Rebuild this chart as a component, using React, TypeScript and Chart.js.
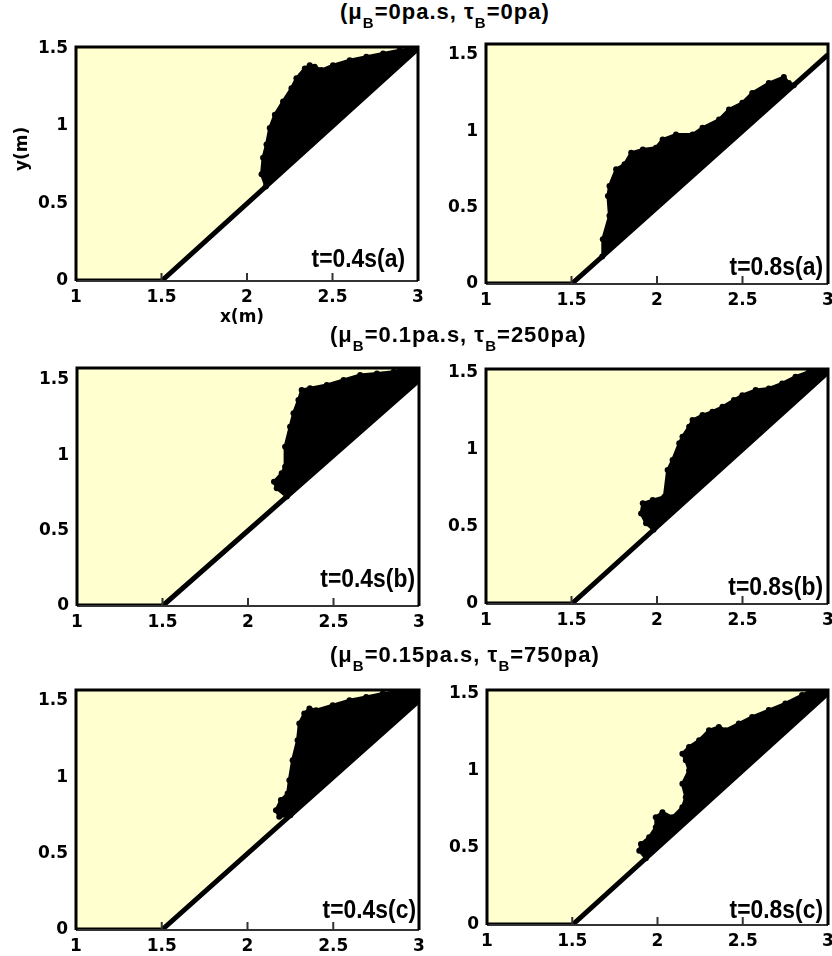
import React, { useEffect, useRef } from "react";
import { Chart, registerables } from "chart.js";

Chart.register(...registerables);

// ---------- data ----------
const xTicks = [1, 1.5, 2, 2.5, 3];
const yTicks = [0, 0.5, 1, 1.5];

// inclined bed (wall particles)
const wallX = [1, 1.5, 3];
const wallY = [0, 0, 1.5];

// fluid free-surface outlines (closed back along the wall)
const fluidA04X = [2.11, 2.085, 2.094, 2.114, 2.133, 2.163, 2.211, 2.26, 2.289, 2.338, 2.367, 2.396, 2.435, 2.503, 2.601, 2.698, 2.796, 2.893, 2.971, 3.0, 3.0];
const fluidA04Y = [0.61, 0.689, 0.796, 0.881, 0.988, 1.073, 1.159, 1.244, 1.308, 1.372, 1.393, 1.383, 1.361, 1.393, 1.425, 1.447, 1.468, 1.489, 1.5, 1.51, 1.5];

const fluidA08X = [1.68, 1.683, 1.722, 1.713, 1.722, 1.761, 1.81, 1.849, 1.917, 1.994, 2.033, 2.111, 2.208, 2.266, 2.363, 2.421, 2.499, 2.557, 2.654, 2.742, 2.771, 2.8];
const fluidA08Y = [0.18, 0.293, 0.446, 0.576, 0.641, 0.75, 0.783, 0.859, 0.88, 0.891, 0.946, 0.978, 0.978, 1.022, 1.076, 1.141, 1.185, 1.25, 1.315, 1.354, 1.315, 1.3];

const fluidB04X = [2.227, 2.168, 2.152, 2.197, 2.217, 2.217, 2.246, 2.266, 2.295, 2.314, 2.363, 2.461, 2.559, 2.656, 2.754, 2.852, 2.92, 3.0, 3.0];
const fluidB04Y = [0.727, 0.781, 0.825, 0.881, 0.925, 1.058, 1.19, 1.279, 1.367, 1.434, 1.445, 1.467, 1.5, 1.533, 1.544, 1.555, 1.577, 1.58, 1.5];

const fluidB08X = [1.98, 1.936, 1.907, 1.917, 1.975, 2.043, 2.062, 2.091, 2.13, 2.149, 2.188, 2.208, 2.266, 2.324, 2.383, 2.45, 2.499, 2.577, 2.654, 2.732, 2.81, 2.887, 2.965, 3.0, 3.0];
const fluidB08Y = [0.48, 0.522, 0.586, 0.651, 0.672, 0.694, 0.866, 0.931, 1.039, 1.082, 1.147, 1.19, 1.222, 1.244, 1.276, 1.319, 1.351, 1.384, 1.394, 1.427, 1.47, 1.502, 1.513, 1.52, 1.5];

const fluidC04X = [2.25, 2.185, 2.166, 2.195, 2.234, 2.244, 2.263, 2.292, 2.302, 2.331, 2.361, 2.4, 2.497, 2.595, 2.692, 2.789, 2.867, 2.906, 3.0, 3.0];
const fluidC04Y = [0.75, 0.741, 0.784, 0.85, 0.893, 0.98, 1.111, 1.242, 1.351, 1.416, 1.449, 1.438, 1.471, 1.503, 1.525, 1.547, 1.558, 1.569, 1.57, 1.5];

const fluidC08X = [1.932, 1.893, 1.903, 1.951, 1.99, 1.99, 2.029, 2.088, 2.146, 2.166, 2.146, 2.185, 2.166, 2.146, 2.185, 2.244, 2.302, 2.36, 2.399, 2.477, 2.555, 2.653, 2.75, 2.848, 2.906, 3.0, 3.0];
const fluidC08Y = [0.432, 0.481, 0.524, 0.567, 0.632, 0.697, 0.729, 0.697, 0.762, 0.827, 0.913, 1.0, 1.065, 1.108, 1.152, 1.195, 1.26, 1.281, 1.26, 1.303, 1.346, 1.39, 1.433, 1.487, 1.52, 1.52, 1.5];

const panelLabels = ["t=0.4s(a)", "t=0.8s(a)", "t=0.4s(b)", "t=0.8s(b)", "t=0.4s(c)", "t=0.8s(c)"];
const panelYMax = [1.51, 1.57, 1.58, 1.52, 1.57, 1.52];

const muValues = ["0", "0.1", "0.15"];
const tauValues = ["0", "250", "750"];

// ---------- styles / layout ----------
const YELLOW = "#FFFFD0";
const Y_AXIS_W = 55;
const PAD_T = 14;
const X_AXIS_H = 40;
const TICK_FONT = { family: "'DejaVu Sans', sans-serif", size: 17, weight: "bold" as const };

const panels = [
  { L: 76, T: 47, R: 418, B: 281, padR: 10, fx: fluidA04X, fy: fluidA04Y, label: panelLabels[0], ymax: panelYMax[0], lr: 13, lb: 14 },
  { L: 486, T: 44, R: 829, B: 284, padR: 3, fx: fluidA08X, fy: fluidA08Y, label: panelLabels[1], ymax: panelYMax[1], lr: 5, lb: 9 },
  { L: 77, T: 368, R: 419, B: 606, padR: 9, fx: fluidB04X, fy: fluidB04Y, label: panelLabels[2], ymax: panelYMax[2], lr: 4, lb: 19 },
  { L: 486, T: 369, R: 829, B: 604, padR: 3, fx: fluidB08X, fy: fluidB08Y, label: panelLabels[3], ymax: panelYMax[3], lr: 5, lb: 9 },
  { L: 76, T: 690, R: 419, B: 930, padR: 9, fx: fluidC04X, fy: fluidC04Y, label: panelLabels[4], ymax: panelYMax[4], lr: 3, lb: 12 },
  { L: 487, T: 690, R: 829, B: 925, padR: 3, fx: fluidC08X, fy: fluidC08Y, label: panelLabels[5], ymax: panelYMax[5], lr: 5, lb: 7 },
];

const framePlugin = {
  id: "frame",
  afterDatasetsDraw(chart: any, _args: any, opts: any) {
    const { ctx, chartArea: a, scales } = chart;
    ctx.save();
    ctx.strokeStyle = "#333";
    ctx.lineWidth = 2;
    xTicks.forEach((v) => {
      const px = scales.x.getPixelForValue(v);
      ctx.beginPath();
      ctx.moveTo(px, a.bottom);
      ctx.lineTo(px, a.bottom - 8);
      ctx.stroke();
    });
    ctx.beginPath();
    ctx.moveTo(a.left, a.bottom);
    ctx.lineTo(a.right, a.bottom);
    ctx.stroke();
    ctx.strokeStyle = "#000";
    ctx.lineWidth = 3;
    ctx.beginPath();
    ctx.moveTo(a.left, a.bottom);
    ctx.lineTo(a.left, a.top);
    ctx.lineTo(a.right, a.top);
    ctx.lineTo(a.right, a.bottom);
    ctx.stroke();
    ctx.font = "bold 26px 'Liberation Sans', Arial, sans-serif";
    ctx.fillStyle = "#000";
    ctx.textAlign = "right";
    ctx.textBaseline = "alphabetic";
    ctx.translate(a.right - opts.lr, a.bottom - opts.lb);
    ctx.scale(0.88, 1);
    ctx.fillText(opts.label, 0, 0);
    ctx.restore();
  },
};

type P = (typeof panels)[number];

function Panel({ p }: { p: P }) {
  const ref = useRef<HTMLCanvasElement>(null);
  const w = p.R - p.L + Y_AXIS_W + p.padR;
  const h = p.B - p.T + PAD_T + X_AXIS_H;
  useEffect(() => {
    const pts = (xs: number[], ys: number[]) => xs.map((x, i) => ({ x, y: ys[i] }));
    const chart = new Chart(ref.current as HTMLCanvasElement, {
      type: "line",
      data: {
        datasets: [
          { data: pts(wallX, wallY), fill: "end", backgroundColor: YELLOW, borderWidth: 0, pointRadius: 0, order: 3 },
          {
            data: pts(p.fx, p.fy), fill: "shape", backgroundColor: "#000", borderColor: "#000",
            borderWidth: 3, pointRadius: 3, pointBackgroundColor: "#000", pointBorderWidth: 0, order: 2,
          },
          { data: pts(wallX, wallY), fill: false, borderColor: "#000", borderWidth: 5, pointRadius: 0, order: 1 },
        ],
      } as any,
      options: {
        animation: false,
        responsive: false,
        devicePixelRatio: 1,
        layout: { padding: { left: 0, top: PAD_T, right: p.padR, bottom: 0 } },
        plugins: {
          legend: { display: false },
          tooltip: { enabled: false },
          frame: { label: p.label, lr: p.lr, lb: p.lb },
        } as any,
        scales: {
          x: {
            type: "linear", min: 1, max: 3,
            afterBuildTicks: (s: any) => { s.ticks = xTicks.map((v) => ({ value: v })); },
            afterFit: (s: any) => { s.height = X_AXIS_H; s.paddingLeft = 0; s.paddingRight = 0; },
            ticks: { font: TICK_FONT, color: "#000", padding: 6, maxRotation: 0, autoSkip: false, callback: (v: any) => String(v) },
            grid: { display: false, drawTicks: false },
            border: { display: false },
          },
          y: {
            type: "linear", min: 0, max: p.ymax,
            afterBuildTicks: (s: any) => { s.ticks = yTicks.map((v) => ({ value: v })); },
            afterFit: (s: any) => { s.width = Y_AXIS_W; s.paddingTop = 0; s.paddingBottom = 0; },
            ticks: { font: TICK_FONT, color: "#000", padding: 8, autoSkip: false, callback: (v: any) => String(v) },
            grid: { display: false, drawTicks: false },
            border: { display: false },
          },
        },
      } as any,
      plugins: [framePlugin],
    });
    return () => chart.destroy();
  }, []);
  return (
    <canvas
      ref={ref}
      width={w}
      height={h}
      style={{ position: "absolute", left: p.L - Y_AXIS_W, top: p.T - PAD_T, width: w, height: h }}
    />
  );
}

const titleStyle: React.CSSProperties = {
  position: "absolute",
  font: "bold 22px 'Liberation Sans', Arial, sans-serif",
  letterSpacing: "1px",
  lineHeight: "22px",
  whiteSpace: "nowrap",
  color: "#000",
};
const subStyle: React.CSSProperties = { fontSize: 15, position: "relative", top: 9 };

function Title({ i, left, top }: { i: number; left: number; top: number }) {
  return (
    <div style={{ ...titleStyle, left, top }}>
      (μ<span style={subStyle}>B</span>={muValues[i]}pa.s, τ<span style={subStyle}>B</span>={tauValues[i]}pa)
    </div>
  );
}

export default function App() {
  return (
    <div style={{ position: "absolute", left: 0, top: 0, width: 832, height: 956, background: "#fff", overflow: "hidden" }}>
      {panels.map((p, i) => (
        <Panel key={i} p={p} />
      ))}
      <Title i={0} left={340} top={1} />
      <Title i={1} left={330} top={324} />
      <Title i={2} left={330} top={644} />
      <div
        style={{
          position: "absolute", left: -1, top: 140, width: 44, height: 18, textAlign: "center",
          font: "bold 17px 'DejaVu Sans', sans-serif", lineHeight: "18px", transform: "rotate(-90deg)",
        }}
      >
        y(m)
      </div>
      <div
        style={{
          position: "absolute", left: 212, top: 307, width: 60, textAlign: "center",
          font: "bold 17px 'DejaVu Sans', sans-serif", lineHeight: "18px",
        }}
      >
        x(m)
      </div>
    </div>
  );
}
